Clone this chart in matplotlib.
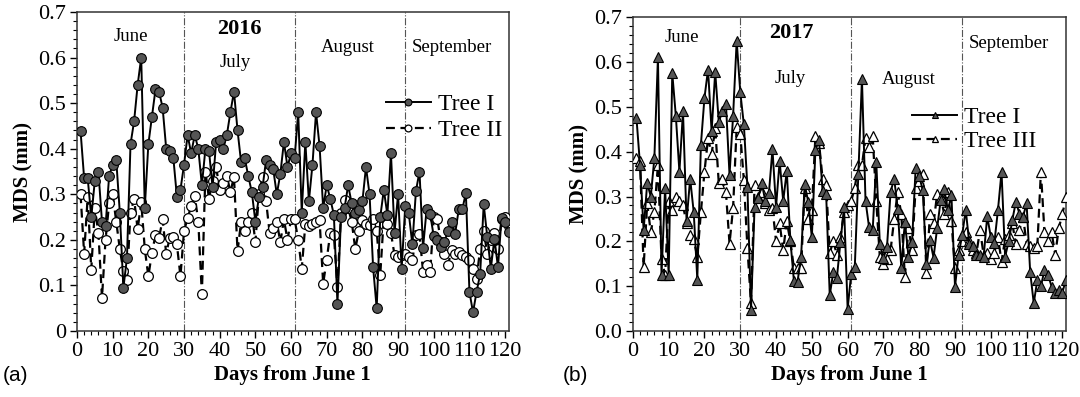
import numpy as np
import matplotlib.pyplot as plt
from matplotlib.ticker import MultipleLocator, FuncFormatter

plt.rcParams['font.family'] = ['Liberation Serif', 'DejaVu Serif']

# ---- data (2016) ----
days16 = np.arange(1, 122)
tree1_2016 = [
    0.438, 0.335, 0.335, 0.25, 0.33, 0.35, 0.24, 0.23, 0.34, 0.365,
    0.375, 0.26, 0.095, 0.16, 0.41, 0.46, 0.54, 0.60, 0.27, 0.41,
    0.47, 0.53, 0.525, 0.49, 0.40, 0.395, 0.38, 0.295, 0.31, 0.365,
    0.43, 0.39, 0.43, 0.40, 0.32, 0.40, 0.395, 0.315, 0.415, 0.42,
    0.40, 0.43, 0.48, 0.525, 0.44, 0.37, 0.38, 0.34, 0.305, 0.24,
    0.295, 0.315, 0.375, 0.365, 0.355, 0.30, 0.345, 0.415, 0.36, 0.39,
    0.38, 0.48, 0.26, 0.415, 0.285, 0.365, 0.48, 0.405, 0.27, 0.32,
    0.29, 0.255, 0.06, 0.25, 0.27, 0.32, 0.28, 0.26, 0.265, 0.285,
    0.36, 0.30, 0.14, 0.05, 0.25, 0.31, 0.255, 0.39, 0.216, 0.30,
    0.137, 0.274, 0.258, 0.19, 0.307, 0.35, 0.183, 0.267, 0.256, 0.208,
    0.20, 0.185, 0.196, 0.22, 0.24, 0.214, 0.267, 0.267, 0.303, 0.086,
    0.041, 0.086, 0.125, 0.278, 0.207, 0.137, 0.203, 0.14, 0.248, 0.24,
    0.218,
]
tree2_2016 = [
    0.30, 0.17, 0.295, 0.135, 0.27, 0.215, 0.073, 0.20, 0.28, 0.30,
    0.24, 0.18, 0.132, 0.113, 0.26, 0.29, 0.223, 0.283, 0.18, 0.12,
    0.172, 0.21, 0.205, 0.245, 0.17, 0.205, 0.207, 0.19, 0.12, 0.22,
    0.247, 0.275, 0.297, 0.24, 0.081, 0.35, 0.29, 0.33, 0.36, 0.31,
    0.325, 0.34, 0.305, 0.338, 0.175, 0.24, 0.22, 0.24, 0.26, 0.195,
    0.30, 0.338, 0.285, 0.215, 0.227, 0.24, 0.195, 0.245, 0.20, 0.245,
    0.245, 0.20, 0.137, 0.234, 0.23, 0.234, 0.24, 0.243, 0.104, 0.157,
    0.216, 0.21, 0.097, 0.258, 0.287, 0.27, 0.24, 0.18, 0.22, 0.243,
    0.235, 0.232, 0.245, 0.22, 0.123, 0.25, 0.235, 0.215, 0.167, 0.163,
    0.167, 0.17, 0.162, 0.155, 0.21, 0.213, 0.13, 0.145, 0.13, 0.25,
    0.245, 0.196, 0.17, 0.145, 0.178, 0.17, 0.174, 0.167, 0.163, 0.155,
    0.137, 0.115, 0.18, 0.22, 0.17, 0.20, 0.215, 0.18, 0.245, 0.25,
    0.23,
]

# ---- data (2017) ----
days17 = np.arange(1, 122)
tree1_2017 = [
    0.475, 0.37, 0.225, 0.33, 0.30, 0.385, 0.61, 0.125, 0.32, 0.125,
    0.575, 0.48, 0.355, 0.49, 0.245, 0.34, 0.265, 0.115, 0.415, 0.52,
    0.583, 0.445, 0.578, 0.466, 0.49, 0.507, 0.348, 0.48, 0.647, 0.533,
    0.461, 0.322, 0.047, 0.277, 0.296, 0.33, 0.29, 0.307, 0.405, 0.277,
    0.379, 0.29, 0.357, 0.203, 0.111, 0.11, 0.166, 0.327, 0.288, 0.209,
    0.403, 0.426, 0.312, 0.305, 0.08, 0.132, 0.119, 0.199, 0.277, 0.05,
    0.128, 0.143, 0.351, 0.562, 0.29, 0.231, 0.225, 0.377, 0.195, 0.162,
    0.188, 0.31, 0.34, 0.273, 0.14, 0.244, 0.166, 0.199, 0.363, 0.345,
    0.314, 0.149, 0.203, 0.164, 0.229, 0.292, 0.316, 0.27, 0.303, 0.099,
    0.17, 0.214, 0.27, 0.195, 0.19, 0.17, 0.17, 0.166, 0.256, 0.21,
    0.197, 0.27, 0.355, 0.166, 0.20, 0.247, 0.288, 0.262, 0.255, 0.285,
    0.132, 0.062, 0.114, 0.10, 0.136, 0.125, 0.099, 0.084, 0.091, 0.086,
    0.115,
]
tree3_2017 = [
    0.385, 0.38, 0.143, 0.285, 0.22, 0.265, 0.37, 0.16, 0.125, 0.29,
    0.27, 0.30, 0.29, 0.28, 0.24, 0.215, 0.205, 0.165, 0.265, 0.355,
    0.43, 0.395, 0.452, 0.33, 0.34, 0.31, 0.195, 0.275, 0.455, 0.44,
    0.337, 0.186, 0.062, 0.325, 0.30, 0.31, 0.285, 0.27, 0.275, 0.20,
    0.24, 0.18, 0.245, 0.20, 0.14, 0.14, 0.14, 0.32, 0.25, 0.27,
    0.435, 0.42, 0.34, 0.325, 0.175, 0.20, 0.17, 0.21, 0.265, 0.28,
    0.29, 0.32, 0.37, 0.37, 0.43, 0.41, 0.435, 0.29, 0.165, 0.15,
    0.16, 0.18, 0.25, 0.31, 0.26, 0.12, 0.23, 0.18, 0.32, 0.335,
    0.35, 0.13, 0.26, 0.24, 0.305, 0.30, 0.26, 0.31, 0.245, 0.14,
    0.18, 0.20, 0.22, 0.20, 0.18, 0.175, 0.225, 0.17, 0.175, 0.16,
    0.175, 0.21, 0.155, 0.205, 0.215, 0.24, 0.195, 0.225, 0.255, 0.195,
    0.19, 0.185, 0.19, 0.355, 0.22, 0.20, 0.22, 0.17, 0.23, 0.26,
    0.30,
]

month_bounds = [30, 61, 92]

fig = plt.figure(figsize=(10.8, 3.97), dpi=100)
ax1 = fig.add_axes([0.0713, 0.166, 0.3997, 0.804])
ax2 = fig.add_axes([0.586, 0.166, 0.401, 0.791])


def style_axis(ax, zero_label):
    ax.set_xlim(0, 121)
    ax.set_ylim(0, 0.7)
    ax.xaxis.set_major_locator(MultipleLocator(10))
    ax.xaxis.set_minor_locator(MultipleLocator(2))
    ax.yaxis.set_major_locator(MultipleLocator(0.1))
    ax.yaxis.set_minor_locator(MultipleLocator(0.02))
    ax.yaxis.set_major_formatter(FuncFormatter(
        lambda v, p: zero_label if abs(v) < 1e-9 else f'{v:.1f}'))
    ax.tick_params(which='major', direction='out', length=5, width=1,
                   labelsize=16, pad=3)
    ax.tick_params(which='minor', direction='out', length=3, width=0.8)
    for s in ax.spines.values():
        s.set_linewidth(1.1)
        s.set_color('#333333')
    for b in month_bounds:
        ax.axvline(b, color='#555555', lw=0.8, ls='-.', zorder=1)
    ax.set_xlabel('Days from June 1', fontsize=15, fontweight='bold', labelpad=3)
    ax.set_ylabel('MDS (mm)', fontsize=15, fontweight='bold', labelpad=3)


# ---- panel (a) ----
ax1.plot(days16, tree2_2016, color='black', lw=1.6, dashes=(4, 2.5),
         marker='o', ms=7, mfc='white', mec='black', mew=0.9, label='Tree II', zorder=3)
ax1.plot(days16, tree1_2016, color='black', lw=1.4,
         marker='o', ms=7, mfc='#555555', mec='black', mew=0.8, label='Tree I', zorder=4)
style_axis(ax1, '0')
for x, y, t in [(15, 0.645, 'June'), (44.3, 0.59, 'July'),
                (76, 0.623, 'August'), (105, 0.623, 'September')]:
    ax1.text(x, y, t, ha='center', va='center', fontsize=13.5)
ax1.text(45.4, 0.662, '2016', ha='center', va='center', fontsize=16, fontweight='bold')
h, l = ax1.get_legend_handles_labels()
ax1.legend(h[::-1], l[::-1], loc='upper left', bbox_to_anchor=(0.715, 0.745),
           frameon=False, fontsize=17, handlelength=1.9, handletextpad=0.3,
           labelspacing=0.2, borderpad=0, borderaxespad=0, markerscale=0.7)

# ---- panel (b) ----
ax2.plot(days17, tree3_2017, color='black', lw=1.6, dashes=(4, 2.5),
         marker='^', ms=7, mfc='white', mec='black', mew=0.9, label='Tree III', zorder=3)
ax2.plot(days17, tree1_2017, color='black', lw=1.4,
         marker='^', ms=7, mfc='#555555', mec='black', mew=0.8, label='Tree I', zorder=4)
style_axis(ax2, '0.0')
for x, y, t in [(13.7, 0.655, 'June'), (43.9, 0.564, 'July'),
                (77, 0.56, 'August'), (105, 0.642, 'September')]:
    ax2.text(x, y, t, ha='center', va='center', fontsize=13.5)
ax2.text(44.2, 0.664, '2017', ha='center', va='center', fontsize=16, fontweight='bold')
h, l = ax2.get_legend_handles_labels()
ax2.legend(h[::-1], l[::-1], loc='upper left', bbox_to_anchor=(0.645, 0.715),
           frameon=False, fontsize=17, handlelength=1.9, handletextpad=0.3,
           labelspacing=0.1, borderpad=0, borderaxespad=0, markerscale=0.7)

fig.text(0.003, 0.055, '(a)', fontsize=15, family='Liberation Sans', va='center')
fig.text(0.521, 0.055, '(b)', fontsize=15, family='Liberation Sans', va='center')

fig.savefig('out.png', dpi=100)
